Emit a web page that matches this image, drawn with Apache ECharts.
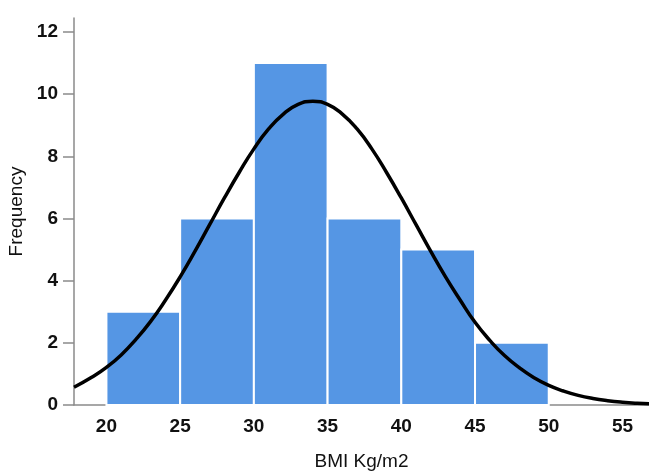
<!DOCTYPE html>
<html>
<head>
<meta charset="utf-8">
<script src="https://cdn.jsdelivr.net/npm/echarts@6/dist/echarts.min.js"></script>
<style>html,body{margin:0;padding:0;background:#fff}#c{width:649px;height:475px}</style>
</head>
<body>
<div id="c"></div>
<script>
// Histogram bins (BMI Kg/m2) and frequencies
var binStarts = [20, 25, 30, 35, 40, 45];
var binEnds   = [25, 30, 35, 40, 45, 50];
var frequencies = [3, 6, 11, 6, 5, 2];

// Fitted normal curve
var curveX = [17.8, 19, 20, 21, 22, 23, 24, 25, 26, 27, 28, 29, 30, 31, 32, 33, 34, 35, 36, 37, 38, 39, 40, 41, 42, 43, 44, 45, 46, 47, 48, 49, 50, 51, 52, 53, 54, 55, 56, 56.8];
var curveY = [0.57, 0.89, 1.21, 1.61, 2.11, 2.69, 3.37, 4.12, 4.94, 5.80, 6.66, 7.48, 8.24, 8.88, 9.36, 9.67, 9.77, 9.67, 9.36, 8.88, 8.24, 7.48, 6.66, 5.80, 4.94, 4.12, 3.37, 2.66, 2.08, 1.59, 1.20, 0.88, 0.63, 0.45, 0.31, 0.21, 0.14, 0.09, 0.056, 0.04];

var xTicks = [20, 25, 30, 35, 40, 45, 50, 55];
var yTicks = [0, 2, 4, 6, 8, 10, 12];

var barData = binStarts.map(function (s, i) { return [s, binEnds[i], frequencies[i]]; });
var lineData = curveX.map(function (x, i) { return [x, curveY[i]]; });

var chart = echarts.init(document.getElementById('c'), null, {renderer: 'canvas'});
chart.setOption({
  animation: false,
  backgroundColor: '#fff',
  grid: {left: 74, right: 0, top: 18, bottom: 70, outerBoundsMode: 'none', containLabel: false},
  xAxis: {
    type: 'value', min: 17.8, max: 56.8,
    name: 'BMI Kg/m2', nameLocation: 'middle', nameGap: 47,
    nameTextStyle: {fontFamily: 'Liberation Sans', fontSize: 19, color: '#111'},
    axisLine: {show: true, onZero: false, lineStyle: {color: '#8a8a8a', width: 1.5}},
    axisTick: {show: false},
    splitLine: {show: false},
    axisLabel: {customValues: xTicks, margin: 12, fontFamily: 'Liberation Sans', fontWeight: 'bold', fontSize: 19, color: '#111'}
  },
  yAxis: {
    type: 'value', min: 0, max: 12.45, interval: 2,
    name: 'Frequency', nameLocation: 'middle', nameGap: 44,
    nameTextStyle: {fontFamily: 'Liberation Sans', fontSize: 19, color: '#111'},
    axisLine: {show: true, lineStyle: {color: '#8a8a8a', width: 1.5}},
    axisTick: {show: true, customValues: yTicks, length: 11, lineStyle: {color: '#8a8a8a', width: 1.5}},
    splitLine: {show: false},
    axisLabel: {customValues: yTicks, margin: 16, fontFamily: 'Liberation Sans', fontWeight: 'bold', fontSize: 19, color: '#111'}
  },
  series: [
    {
      type: 'custom',
      renderItem: function (params, api) {
        var p0 = api.coord([api.value(0), api.value(2)]);
        var p1 = api.coord([api.value(1), 0]);
        return {
          type: 'rect',
          shape: {x: p0[0], y: p0[1], width: p1[0] - p0[0], height: p1[1] - p0[1]},
          style: {fill: '#5596e4', stroke: '#ffffff', lineWidth: 2}
        };
      },
      encode: {x: [0, 1], y: 2},
      data: barData,
      z: 2
    },
    {
      type: 'line', data: lineData, smooth: true, symbol: 'none',
      lineStyle: {color: '#000', width: 3.5}, z: 3
    }
  ]
});
</script>
</body>
</html>
